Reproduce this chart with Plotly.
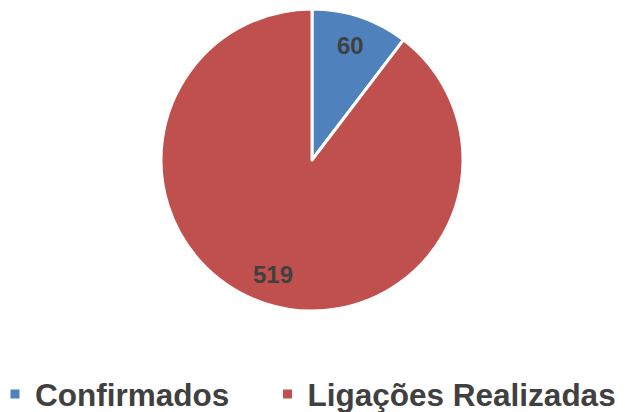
import math
import plotly.graph_objects as go

labels = ["Confirmados", "Ligações Realizadas"]
values = [60, 519]
colors = ["#4F81BD", "#C0504D"]

W, H = 660, 404          # page body has an 8px margin; right part beyond the window is empty
CX, CY, R = 304, 152, 151  # pie centre / radius in paper pixels
LABEL_R = 0.8
FONT = "Liberation Sans, Arial, sans-serif"
TXT = "#404040"
LEGEND_PAD = "\u2002\u00a0\u00a0"  # extra gap between legend entries

fig = go.Figure(go.Pie(
    labels=[lab + (LEGEND_PAD if i < len(labels) - 1 else "") for i, lab in enumerate(labels)],
    values=values,
    sort=False,
    direction="clockwise",
    rotation=0,
    marker=dict(colors=colors, line=dict(color="white", width=3)),
    textinfo="none",
    domain=dict(x=[(CX - R) / W, (CX + R) / W], y=[1 - (CY + R) / H, 1 - (CY - R) / H]),
    hovertemplate="%{value}<extra></extra>",
))

# data labels placed at the mid-angle of each slice
total = sum(values)
start = 0.0
annotations = []
for v in values:
    mid = math.radians((start + v / 2) / total * 360)
    start += v
    px = CX + LABEL_R * R * math.sin(mid)
    py = CY - LABEL_R * R * math.cos(mid)
    annotations.append(dict(
        x=px / W, y=1 - py / H, xref="paper", yref="paper",
        xanchor="center", yanchor="middle",
        text=str(v), showarrow=False,
        font=dict(family=FONT, size=24, color=TXT, weight="bold"),
    ))

fig.update_layout(
    width=W, height=H,
    margin=dict(l=0, r=0, t=0, b=0, autoexpand=False),
    paper_bgcolor="white",
    plot_bgcolor="white",
    showlegend=True,
    annotations=annotations,
    legend=dict(
        orientation="h",
        x=-13 / W, xanchor="left",
        y=-9 / H, yanchor="bottom",
        font=dict(family=FONT, size=31.5, color=TXT, weight="bold"),
        itemwidth=30,
        traceorder="normal",
    ),
)

fig.write_html("out.html")
